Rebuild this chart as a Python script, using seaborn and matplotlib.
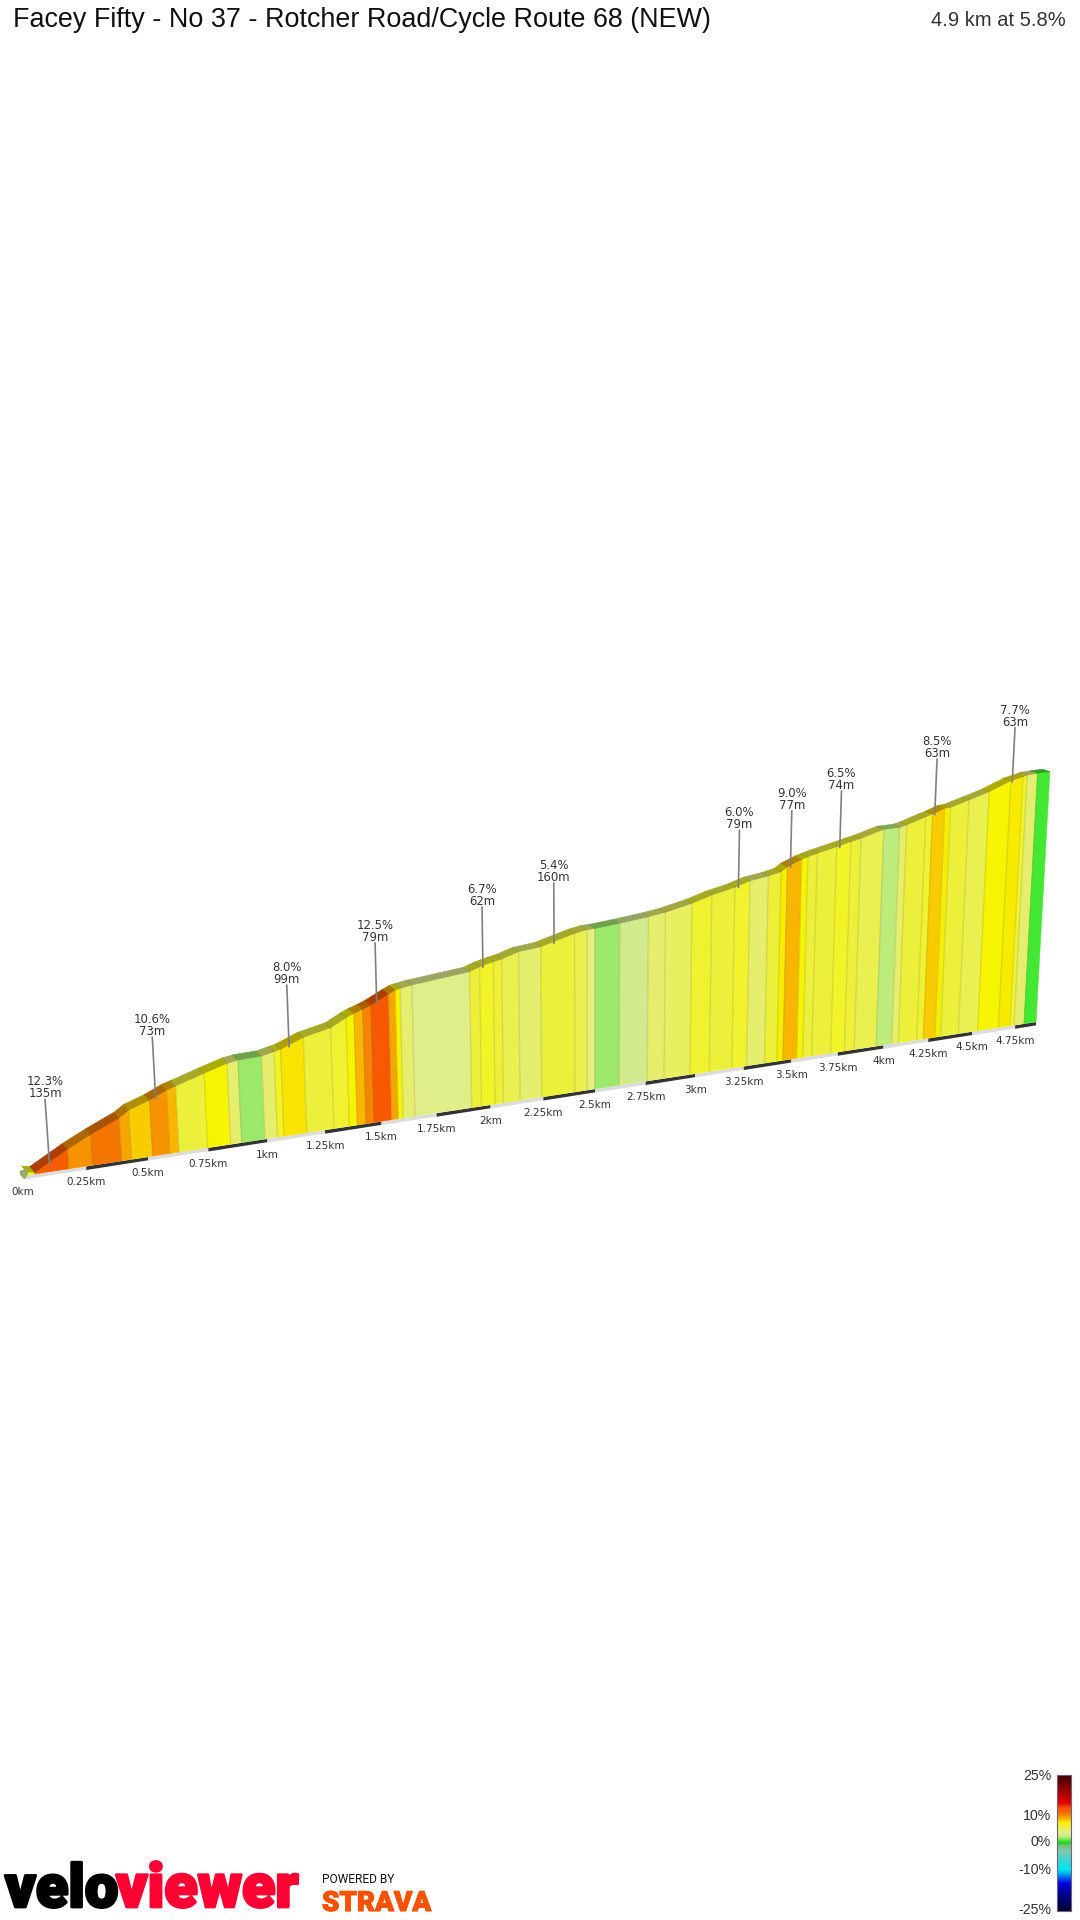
import numpy as np, pandas as pd, matplotlib
matplotlib.use('Agg')
import matplotlib.pyplot as plt
import seaborn as sns
from matplotlib.colors import LinearSegmentedColormap
import matplotlib.patheffects as pe

TITLE = "Facey Fifty - No 37 - Rotcher Road/Cycle Route 68 (NEW)"
SUMMARY = "4.9 km at 5.8%"

# climb profile: segment boundaries
seg_km = [0.016,0.047,0.181,0.276,0.393,0.433,0.519,0.590,0.628,0.747,0.844,0.890,0.990,1.043,1.071,1.170,
          1.289,1.357,1.392,1.431,1.467,1.546,1.576,1.598,1.651,1.912,1.958,2.021,2.060,2.139,2.242,2.402,
          2.462,2.500,2.619,2.758,2.842,2.973,3.072,3.188,3.265,3.358,3.423,3.455,3.529,3.561,3.609,3.711,
          3.785,3.839,3.959,4.045,4.082,4.185,4.222,4.288,4.320,4.421,4.532,4.652,4.720,4.743,4.802,4.873]
seg_elev = [3.0,1.5,18.3,28.7,40.3,46.2,52.8,60.0,62.6,70.9,77.4,79.1,79.9,82.5,83.9,92.6,
            98.4,106.2,109.5,112.3,115.5,124.2,127.3,128.3,130.2,136.4,140.1,143.5,145.2,150.5,152.9,162.5,
            164.9,165.0,167.4,170.8,173.4,179.6,186.0,191.5,196.7,199.6,202.7,207.4,213.7,215.7,218.4,223.3,
            227.1,229.7,237.0,237.4,239.2,246.2,248.5,253.5,253.9,260.1,267.2,277.3,280.5,282.0,282.9,283.4]
# gradient (%) of each segment
seg_grad = [7.5,12.3,10,11,9.5,8.5,10,9,6,7.5,5,2,5,7,8,6,6.5,7.5,9,10.5,12.5,9.5,7.5,5,4,6,7,6,5.5,5,6,5.5,
            4.5,2,3,5,5.2,6.5,6,6.7,5,6,7.7,9,7.5,6,6,7,6,5.5,2.5,5,6,6.5,8.5,7.7,6,5.5,7.5,7.8,7,5,1]

# call-outs
note_km = [0.106,0.544,1.108,1.493,1.973,2.305,3.206,3.471,3.727,4.234,4.660]
note_top = [67.1,111.4,145.1,175.9,199.8,216.4,251.8,267.0,283.3,309.0,336.8]
note_grad = ["12.3%","10.6%","8.0%","12.5%","6.7%","5.4%","6.0%","9.0%","6.5%","8.5%","7.7%"]
note_len = ["135m","73m","99m","79m","62m","160m","79m","77m","74m","63m","63m"]

tick_km = [0,0.25,0.5,0.75,1,1.25,1.5,1.75,2,2.25,2.5,2.75,3,3.25,3.5,3.75,4,4.25,4.5,4.75]
tick_lab = ["0km","0.25km","0.5km","0.75km","1km","1.25km","1.5km","1.75km","2km","2.25km","2.5km",
            "2.75km","3km","3.25km","3.5km","3.75km","4km","4.25km","4.5km","4.75km"]

# colour scale
scale_pct = [-25,-20,-15,-12,-10,-7,-3,-1,0,1,2,2.5,3,4,5,5.5,6,7,7.5,8,8.5,9,10,11,12,13,15,18,22,25]
scale_col = ['#000033','#000080','#0000e0','#0090f0','#00e8f0','#30d8d8','#80c8b0','#70c070','#10cc10','#40e830','#9ce86a',
             '#bdec7c','#d3ea8e','#e1ee8a','#e6ee70','#eaf050','#ecf03a','#f2f428','#f6f400','#f7e300','#f8cf00',
             '#f8b800','#f79400','#f47500','#f55f00','#f85300','#e00000','#b00000','#700000','#400000']
legend_ticks = [25,10,0,-10,-25]

cmap = LinearSegmentedColormap.from_list('grad', [((p+25)/50, c) for p, c in zip(scale_pct, scale_col)], N=512)
col = lambda g: np.array(cmap((g+25)/50))[:3]

sns.set_theme(style='white')
plt.rcParams['font.family'] = ['DejaVu Sans']
fig = plt.figure(figsize=(10.8, 19.2), dpi=100)
ax = fig.add_axes([0, 0, 1, 1])
ax.set_xlim(0, 1080); ax.set_ylim(1920, 0); ax.axis('off')

# perspective view of (distance, elevation)
A, B, K, X0, XC, LEAN = 256., .0475, 1.0866, 23., 595., 1.26e-4
def project(d, h, back=False):
    d = np.asarray(d, float); h = np.asarray(h, float)
    px = X0 + A*d/(1+B*d)
    by = 1166 - .152*(px-87)
    H = K*h/(1+B*d)
    x = px + LEAN*(px-XC)*H
    y = by - H
    if back:
        x = x - (5 + .45*d)
        y = y - (5.8 - .68*d)
    return x, y

km = np.array(seg_km); el = np.array(seg_elev)
TW, BW = project(km, el), project(km, 0*el)
TB = project(km, el, back=True)

# walls and top ribbon
for i, g in enumerate(seg_grad):
    c = col(g)
    ax.fill([BW[0][i], TW[0][i], TW[0][i+1], BW[0][i+1]],
            [BW[1][i], TW[1][i], TW[1][i+1], BW[1][i+1]],
            facecolor=c, edgecolor=c, lw=.4, zorder=3)
    ax.plot([BW[0][i], TW[0][i]], [BW[1][i], TW[1][i]], color=(.45,.42,.2,.18), lw=1, zorder=4)
    t = c*.7
    ax.fill([TW[0][i], TB[0][i], TB[0][i+1], TW[0][i+1]],
            [TW[1][i], TB[1][i], TB[1][i+1], TW[1][i+1]],
            facecolor=t, edgecolor=t, lw=.4, zorder=3)
    ax.plot([TW[0][i], TB[0][i]], [TW[1][i], TB[1][i]], color=(.3,.3,.1,.12), lw=.8, zorder=4)

# start cap
x2, y2 = project(km[0], 0)
ax.fill([x2-7.5, x2, x2+.5, x2-2.5, x2-7], [y2-4, y2-7, y2, y2+4, y2], color='#9aa868', lw=0, zorder=4)

# km strip
strip_km = tick_km + [seg_km[-1]]
for i in range(len(strip_km)-1):
    d = np.array(strip_km[i:i+2])
    sx, sy = project(d, 0*d)
    ax.fill([sx[0], sx[1], sx[1], sx[0]], [sy[0]+.3, sy[1]+.3, sy[1]+3.6, sy[0]+3.9],
            color='#333333' if i % 2 else '#dcdcdc', lw=0, zorder=2)
tx, ty = project(tick_km, np.zeros(len(tick_km)))
for x, y, s in zip(tx, ty, tick_lab):
    ax.text(x, y+16, s, ha='center', va='center', fontsize=7.5, color='#333333', zorder=6)

# call-outs
for d, top, g, l in zip(note_km, note_top, note_grad, note_len):
    base_h = np.interp(d, km, el) - 2
    xx, yy = project([d, d], [base_h, top])
    sns.lineplot(x=xx, y=yy, ax=ax, color='#808080', lw=1.2, sort=False, estimator=None, legend=False, zorder=5)
    ax.text(xx[1], yy[1]+1, g+"\n"+l, ha='center', va='bottom', fontsize=8.4, color='#333333',
            linespacing=.88, zorder=6)

# title row
ax.text(13, 20, TITLE, family='Liberation Sans', fontsize=19.4, ha='left', va='center', color='#111111')
ax.text(1066, 20, SUMMARY, family='Liberation Sans', fontsize=14.5, ha='right', va='center', color='#333333')

# colour legend
cax = fig.add_axes([1057/1080, 1-1911/1920, 14/1080, 136/1920])
grid = pd.DataFrame(np.linspace(25, -25, 137).reshape(-1, 1))
sns.heatmap(grid, ax=cax, cmap=cmap, vmin=-25, vmax=25, cbar=False, xticklabels=False, yticklabels=False)
for s in cax.spines.values():
    s.set_visible(True); s.set_color('#6f607f'); s.set_linewidth(.8)
for v in legend_ticks:
    ax.text(1051, 1842.5-2.68*v + (1 if v<0 else 0), f"{v}%", ha='right', va='center', fontsize=10.2,
            family='Liberation Sans', color='#333333')

# brand
stroke = lambda c, w: [pe.withStroke(linewidth=w, foreground=c)]
ax.text(5, 1907, "velo", family='Roboto', fontweight='black', fontsize=43, color='black',
        ha='left', va='baseline', path_effects=stroke('black', 2))
ax.text(116, 1907, "viewer", family='Roboto', fontweight='black', fontsize=44, color='#ff0033',
        ha='left', va='baseline', path_effects=stroke('#ff0033', 2))
ax.text(322, 1883, "POWERED BY", family='Roboto', fontweight='normal', fontsize=8.6, color='#111111', ha='left', va='baseline')
ax.text(322, 1911, "STRAVA", family='Roboto', fontweight='black', fontsize=20, color='#fc5200', ha='left', va='baseline',
        path_effects=stroke('#fc5200', .8))

fig.savefig('out.png', dpi=100)
